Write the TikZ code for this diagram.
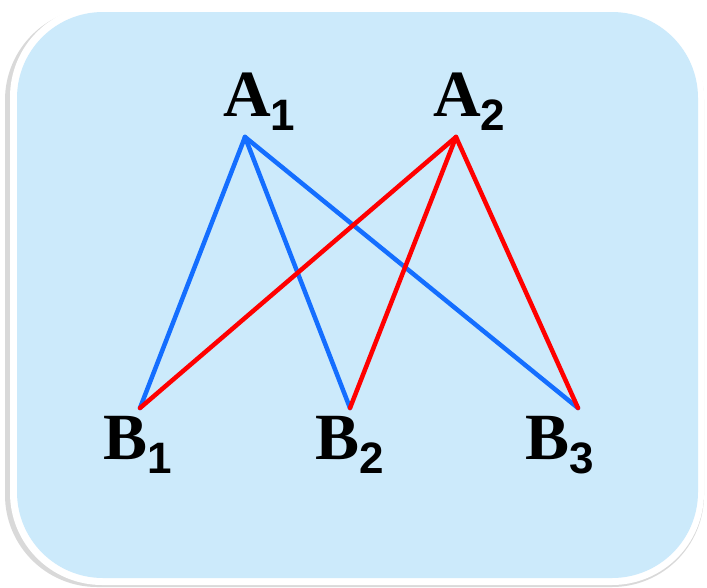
\documentclass[tikz,border=0pt]{standalone}
\usepackage{fontspec}
\newfontfamily\letterfont{Liberation Serif}
\newfontfamily\subfont{Liberation Sans}
\definecolor{panelblue}{RGB}{204,234,251}
\definecolor{edgeblue}{RGB}{20,110,255}
\definecolor{edgered}{RGB}{255,0,0}
\newcommand{\lbl}[2]{{\letterfont\fontsize{66}{66}\selectfont\bfseries #1}\raisebox{-14pt}{\subfont\fontsize{44}{44}\selectfont\bfseries #2}}
\begin{document}
\begin{tikzpicture}[
  x=1pt, y=-1pt,
  edge/.style={line width=4.5pt, line cap=round},
  vlabel/.style={inner sep=0pt, anchor=base west}
]
  \useasboundingbox (0,0) rectangle (707,587);
  % panel with shadow
  \fill[black!15, rounded corners=92pt] (5,8) rectangle (704,587);
  \fill[white, rounded corners=92pt] (10,5) rectangle (704,585);
  \fill[panelblue, rounded corners=86pt] (17,12) rectangle (698,578);

  \coordinate (a1) at (245,137);
  \coordinate (a2) at (456,137);
  \coordinate (b1) at (140,408);
  \coordinate (b2) at (350,408);
  \coordinate (b3) at (578,408);

  \begin{scope}[edge, edgeblue]
    \draw (a1)--(b1); \draw (a1)--(b2); \draw (a1)--(b3);
  \end{scope}
  \begin{scope}[edge, edgered]
    \draw (a2)--(b1); \draw (a2)--(b2); \draw (a2)--(b3);
  \end{scope}

  \node[vlabel] (A1) at (223,116) {\lbl{A}{1}};
  \node[vlabel] (A2) at (433,116) {\lbl{A}{2}};
  \node[vlabel] (B1) at (103,459) {\lbl{B}{1}};
  \node[vlabel] (B2) at (315,459) {\lbl{B}{2}};
  \node[vlabel] (B3) at (525,459) {\lbl{B}{3}};
\end{tikzpicture}
\end{document}
